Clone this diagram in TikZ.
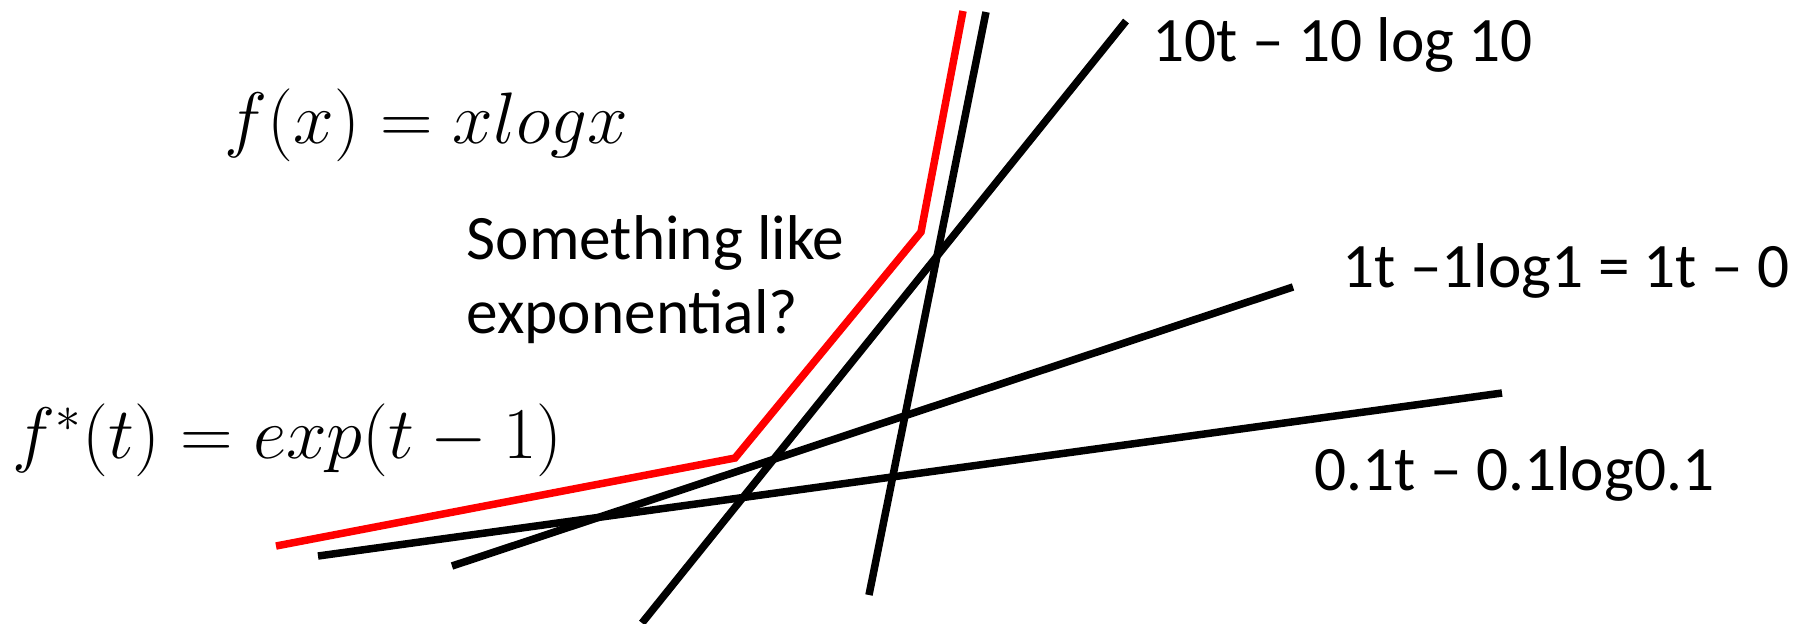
\documentclass[tikz,border=0pt]{standalone}
\usepackage[no-math]{fontspec}
\setmainfont{Carlito}
\begin{document}
\begin{tikzpicture}[x=0.01cm,y=-0.01cm,
  curve/.style={line width=0.075cm,line cap=butt,line join=miter},
  lbl/.style={anchor=base west,inner sep=0pt,font=\fontsize{18}{21}\selectfont},
  mlbl/.style={anchor=base west,inner sep=0pt,font=\fontsize{19.4}{23}\selectfont}]
\useasboundingbox (0,0) rectangle (1800,623);
% end points
\coordinate (a1) at (986,12);  \coordinate (a2) at (869,595);
\coordinate (b1) at (1126,21); \coordinate (b2) at (642,623);
\coordinate (c1) at (452,566); \coordinate (c2) at (1293,287);
\coordinate (d1) at (318,556); \coordinate (d2) at (1502,393);
\coordinate (r1) at (276,546); \coordinate (r2) at (735,458);
\coordinate (r3) at (921,232); \coordinate (r4) at (963,11);
% lines
\draw[curve] (a1) -- (a2);
\draw[curve] (b1) -- (b2);
\draw[curve] (c1) -- (c2);
\draw[curve] (d1) -- (d2);
\draw[curve,red] (r1) -- (r2) -- (r3) -- (r4);
% labels
\node[mlbl] (fx) at (224,143) {$f(x) = xlogx$};
\node[mlbl] (fs) at (12,458) {$f^*(t) = exp(t-1)$};
\node[lbl] (s1) at (466,259) {Something like};
\node[lbl] (s2) at (466,333) {exponential?};
\node[lbl] (l10) at (1152,61) {10t – 10 log 10};
\node[lbl] (l1) at (1342,287) {1t –1log1 = 1t – 0};
\node[lbl] (l01) at (1314,490) {0.1t – 0.1log0.1};
\end{tikzpicture}
\end{document}
